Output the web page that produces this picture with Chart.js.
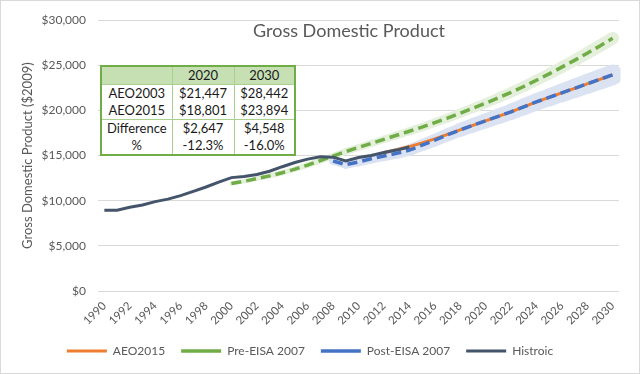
<!DOCTYPE html>
<html>
<head>
<meta charset="utf-8">
<title>Gross Domestic Product</title>
<script src="https://cdn.jsdelivr.net/npm/chart.js@4.4.1/dist/chart.umd.min.js"></script>
<style>
    html, body { margin: 0; padding: 0; background: #fff; }
    #wrap {
        position: relative;
        width: 640px;
        height: 374px;
        box-sizing: border-box;
        border: 1px solid #d9d9d9;
        font-family: Lato, "Liberation Sans", sans-serif;
    }
    #gdp-chart { position: absolute; left: 0; top: 0; }
    #summary {
        position: absolute;
        left: 99px;
        top: 64px;
        width: 194px;
        border-collapse: collapse;
        background: #fff;
        border: 2px solid #70ad47;
        font-size: 13px;
        color: #1a1a1a;
        table-layout: fixed;
    }
    #summary td {
        height: 17px;
        padding: 0;
        text-align: center;
        line-height: 17px;
        border-left: 1px solid #a9d08e;
        border-right: 1px solid #a9d08e;
    }
    #summary tr.head td { background: #c6e0b4; border-bottom: 1px solid #a9d08e; }
    #summary tr.split td { border-top: 1px solid #a9d08e; }
</style>
</head>
<body>
<div id="wrap">
    <canvas id="gdp-chart" width="638" height="372"></canvas>
    <table id="summary"></table>
</div>
<script>
// Chart text
const chartTitle = 'Gross Domestic Product';
const yTitle = 'Gross Domestic Product ($2009)';

// Categories
const years = ['1990', '1991', '1992', '1993', '1994', '1995', '1996', '1997', '1998', '1999',
    '2000', '2001', '2002', '2003', '2004', '2005', '2006', '2007', '2008', '2009',
    '2010', '2011', '2012', '2013', '2014', '2015', '2016', '2017', '2018', '2019',
    '2020', '2021', '2022', '2023', '2024', '2025', '2026', '2027', '2028', '2029', '2030'];

// Series values (GDP, $2009 millions)
const historic = [8950, 8950, 9270, 9520, 9900, 10180, 10560, 11030, 11520, 12070,
    12560, 12680, 12910, 13270, 13770, 14230, 14610, 14870, 14830, 14420,
    14780, 15020, 15350, 15610, 15960, null, null, null, null, null,
    null, null, null, null, null, null, null, null, null, null, null];

const preEisa = [null, null, null, null, null, null, null, null, null, null,
    11900, 12150, 12450, 12750, 13100, 13500, 13950, 14450, 14950, 15450,
    15900, 16350, 16800, 17250, 17700, 18150, 18650, 19150, 19700, 20250,
    20800, 21400, 22000, 22650, 23350, 24050, 24800, 25550, 26350, 27150, 28000];

const postEisa = [null, null, null, null, null, null, null, null, null, null,
    null, null, null, null, null, null, null, null, 14400, 14000,
    14300, 14650, 14950, 15250, 15600, 16150, 16700, 17300, 17850, 18350,
    18850, 19350, 19850, 20400, 20950, 21450, 21950, 22450, 22950, 23450, 23950];

const aeo2015 = [null, null, null, null, null, null, null, null, null, null,
    null, null, null, null, null, null, null, null, null, null,
    null, null, 15350, 15650, 16000, 16400, 16850, 17350, 17850, 18350,
    18850, 19350, 19850, 20400, 20950, 21450, 21950, 22450, 22950, 23450, 23950];

// Summary table
const tableHeader = ['', '2020', '2030'];
const tableRowLabels = ['AEO2003', 'AEO2015', 'Difference', '%'];
const table2020 = ['$21,447', '$18,801', '$2,647', '-12.3%'];
const table2030 = ['$28,442', '$23,894', '$4,548', '-16.0%'];

const textColor = '#595959';
Chart.defaults.font.family = 'Lato, "Liberation Sans", sans-serif';
Chart.defaults.color = textColor;

// Build the overlay table
function buildTable() {
    const table = document.getElementById('summary');
    let html = '<colgroup><col style="width:71px"><col style="width:62px"><col style="width:61px"></colgroup>';
    html += '<tr class="head">' + tableHeader.map(h => '<td>' + h + '</td>').join('') + '</tr>';
    tableRowLabels.forEach((label, i) => {
        const cls = i === 2 ? ' class="split"' : '';
        html += '<tr' + cls + '><td>' + label + '</td><td>' + table2020[i] + '</td><td>' + table2030[i] + '</td></tr>';
    });
    table.innerHTML = html;
}

// Band width grows along the projection
function bandWidth(series, from, to) {
    const first = series.findIndex(v => v !== null);
    const last = series.length - 1;
    return ctx => from + (to - from) * (ctx.p0DataIndex - first) / (last - first);
}

// Title sits inside the plot area, like the original
const overlayTitle = {
    id: 'overlayTitle',
    afterDraw(chart) {
        const c = chart.ctx;
        c.save();
        c.font = '18px Lato, "Liberation Sans", sans-serif';
        c.fillStyle = textColor;
        c.textAlign = 'center';
        c.textBaseline = 'middle';
        c.fillText(chartTitle, 348, 30);
        c.restore();
    }
};

function renderChart() {
    const ctx = document.getElementById('gdp-chart');
    new Chart(ctx, {
        type: 'line',
        data: {
            labels: years,
            datasets: [
                {
                    label: 'AEO2015',
                    data: aeo2015,
                    borderColor: '#ed7d31',
                    borderWidth: 3,
                    pointRadius: 0,
                    order: 2
                },
                {
                    label: 'Pre-EISA 2007',
                    data: preEisa,
                    borderColor: '#70ad47',
                    borderWidth: 3.5,
                    borderDash: [10, 5],
                    pointRadius: 0,
                    order: 3
                },
                {
                    label: 'Post-EISA 2007',
                    data: postEisa,
                    borderColor: '#4472c4',
                    borderWidth: 3.5,
                    borderDash: [10, 5],
                    pointRadius: 0,
                    order: 1
                },
                {
                    label: 'Histroic',
                    data: historic,
                    borderColor: '#44546a',
                    borderWidth: 3,
                    pointRadius: 0,
                    order: 0
                },
                {
                    label: 'band-pre',
                    isBand: true,
                    data: preEisa,
                    borderColor: '#e4f0dc',
                    borderCapStyle: 'round',
                    borderJoinStyle: 'round',
                    pointRadius: 0,
                    segment: { borderWidth: bandWidth(preEisa, 4, 13) },
                    order: 5
                },
                {
                    label: 'band-post',
                    isBand: true,
                    data: postEisa,
                    borderColor: '#dbe3f3',
                    borderCapStyle: 'round',
                    borderJoinStyle: 'round',
                    pointRadius: 0,
                    segment: { borderWidth: bandWidth(postEisa, 8, 21) },
                    order: 4
                }
            ]
        },
        options: {
            responsive: false,
            animation: false,
            layout: { padding: { top: 15, right: 20, bottom: 6, left: 0 } },
            plugins: {
                legend: {
                    position: 'bottom',
                    labels: {
                        usePointStyle: true,
                        pointStyle: 'line',
                        pointStyleWidth: 40,
                        padding: 16,
                        color: textColor,
                        font: { size: 12 },
                        filter: (item, data) => !data.datasets[item.datasetIndex].isBand,
                        sort: (a, b) => a.datasetIndex - b.datasetIndex
                    }
                },
                tooltip: { enabled: false }
            },
            scales: {
                x: {
                    offset: true,
                    grid: { display: false },
                    border: { display: false },
                    ticks: {
                        autoSkip: false,
                        minRotation: 45,
                        maxRotation: 45,
                        padding: 0,
                        color: textColor,
                        font: { size: 11.5 },
                        callback: function(value, index) {
                            return index % 2 === 0 ? this.getLabelForValue(value) : '';
                        }
                    },
                    afterFit: scale => { scale.height = 38; }
                },
                y: {
                    min: 0,
                    max: 30000,
                    ticks: {
                        stepSize: 5000,
                        padding: 12,
                        color: textColor,
                        font: { size: 12 },
                        callback: value => '$' + value.toLocaleString('en-US')
                    },
                    grid: { color: '#d9d9d9', drawTicks: false },
                    border: { display: false },
                    title: {
                        display: true,
                        text: yTitle,
                        color: textColor,
                        font: { size: 13 },
                        padding: { top: 19, bottom: 0 }
                    },
                    afterFit: scale => { scale.width = 97; }
                }
            }
        },
        plugins: [overlayTitle]
    });
}

buildTable();
renderChart();
</script>
</body>
</html>
